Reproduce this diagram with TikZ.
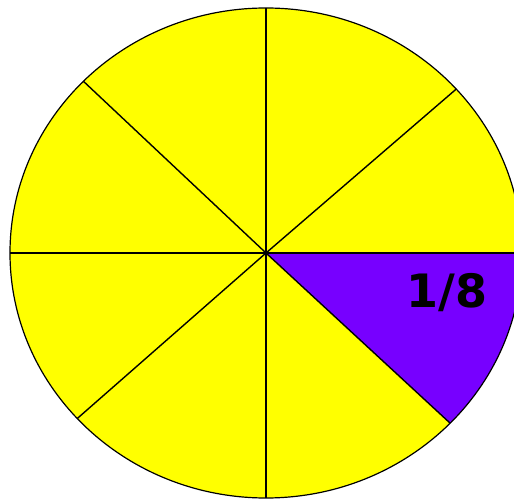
\documentclass[tikz,border=0pt]{standalone}
\usepackage{fontspec}
\setmainfont{DejaVu Sans}
\usepackage{xcolor}
\usepackage{tikz}
\usetikzlibrary{positioning}
\definecolor{pieyellow}{RGB}{255,255,0}
\definecolor{piepurple}{RGB}{119,0,255}

\begin{document}
\begin{tikzpicture}[
  x=0.5pt, y=0.5pt,
  rim/.style={draw=black, line width=0.6pt},
  spoke/.style={black, line width=0.7pt},
  fraclabel/.style={font=\fontsize{23}{23}\selectfont\bfseries, inner sep=0pt}
]
\useasboundingbox (0,0) rectangle (514,498);
\clip (0,0) rectangle (514,498);

%% Disc
\coordinate (c) at (266,245);
\fill[pieyellow] (c) ellipse [x radius=256, y radius=245];

%% Shaded eighth
\fill[piepurple, shift={(c)}] (0,0) -- (0:256 and 245)
  arc[start angle=0, end angle=-44, x radius=256, y radius=245] -- cycle;

%% Spokes
\foreach \a in {0, 42, 90, 135.5, 180, 222.5, 270, -44}
  \draw[spoke] (c) -- ++(\a:256 and 245);

%% Rim
\draw[rim] (c) ellipse [x radius=256, y radius=245];

%% Label
\node[fraclabel] (frac) at (447,205) {1/8};

\end{tikzpicture}
\end{document}
